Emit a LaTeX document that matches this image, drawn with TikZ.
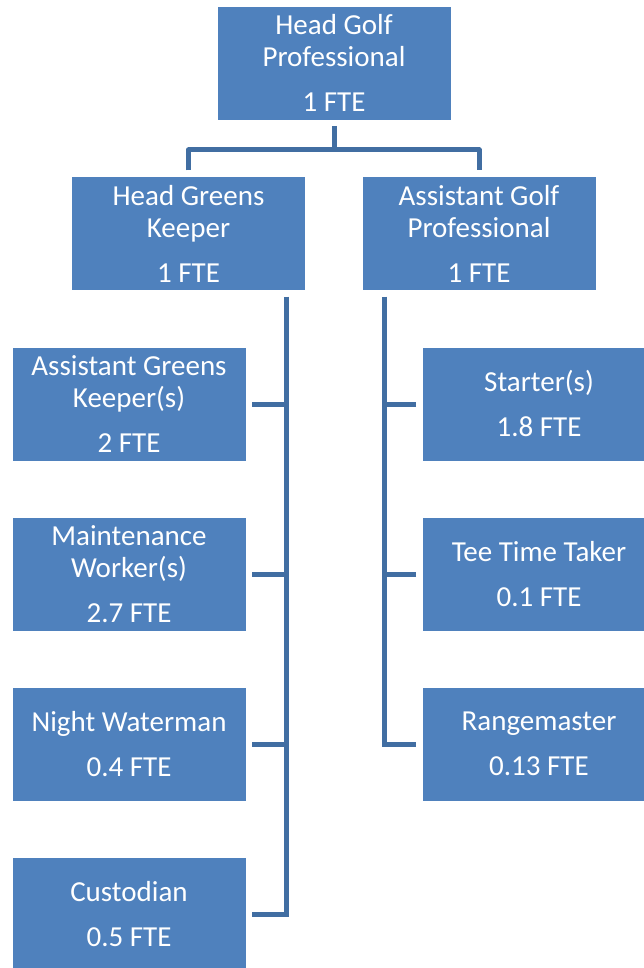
\documentclass[tikz,border=0pt]{standalone}
\usepackage{fontspec}
\setmainfont{Carlito}
\definecolor{boxblue}{RGB}{79,129,189}
\definecolor{lineblue}{RGB}{65,110,162}
\begin{document}
\begin{tikzpicture}[x=1pt,y=-1pt,
  orgbox/.style={rectangle, fill=boxblue, draw=white, line width=0.8pt,
    minimum width=234pt, minimum height=114pt, inner sep=0pt, outer sep=6pt,
    text=white, align=center, font=\fontsize{29}{32}\selectfont},
  conn/.style={draw=lineblue, line width=5pt}]
\useasboundingbox (0,0) rectangle (644,968);
\clip (0,0) rectangle (644,968);
\node[orgbox] (top) at (334,63) {Head Golf\\Professional\\[13pt]1 FTE};
\node[orgbox] (hgk) at (188.5,233.5) {Head Greens\\Keeper\\[13pt]1 FTE};
\node[orgbox] (agp) at (479,233.5) {Assistant Golf\\Professional\\[13pt]1 FTE};
\node[orgbox] (agk) at (129,404) {Assistant Greens\\Keeper(s)\\[13pt]2 FTE};
\node[orgbox] (mw) at (129,574) {Maintenance\\Worker(s)\\[13pt]2.7 FTE};
\node[orgbox] (nw) at (129,744) {Night Waterman\\[13pt]0.4 FTE};
\node[orgbox] (cus) at (129,914) {Custodian\\[13pt]0.5 FTE};
\node[orgbox] (st) at (539,404) {Starter(s)\\[13pt]1.8 FTE};
\node[orgbox] (ttt) at (539,574) {Tee Time Taker\\[13pt]0.1 FTE};
\node[orgbox] (rng) at (539,744) {Rangemaster\\[13pt]0.13 FTE};
\coordinate (j) at (334,150);
\coordinate (ltx) at (286,0);
\coordinate (rtx) at (384,0);
\draw[conn] (top.south) -- (j);
\draw[conn, line join=round] (hgk.north) |- (j) -| (agp.north);
\draw[conn] (hgk.south -| ltx) |- (cus.east);
\draw[conn] (agk.east) -- (agk.east -| ltx);
\draw[conn] (mw.east) -- (mw.east -| ltx);
\draw[conn] (nw.east) -- (nw.east -| ltx);
\draw[conn] (agp.south -| rtx) |- (rng.west);
\draw[conn] (st.west) -- (st.west -| rtx);
\draw[conn] (ttt.west) -- (ttt.west -| rtx);
\end{tikzpicture}
\end{document}
